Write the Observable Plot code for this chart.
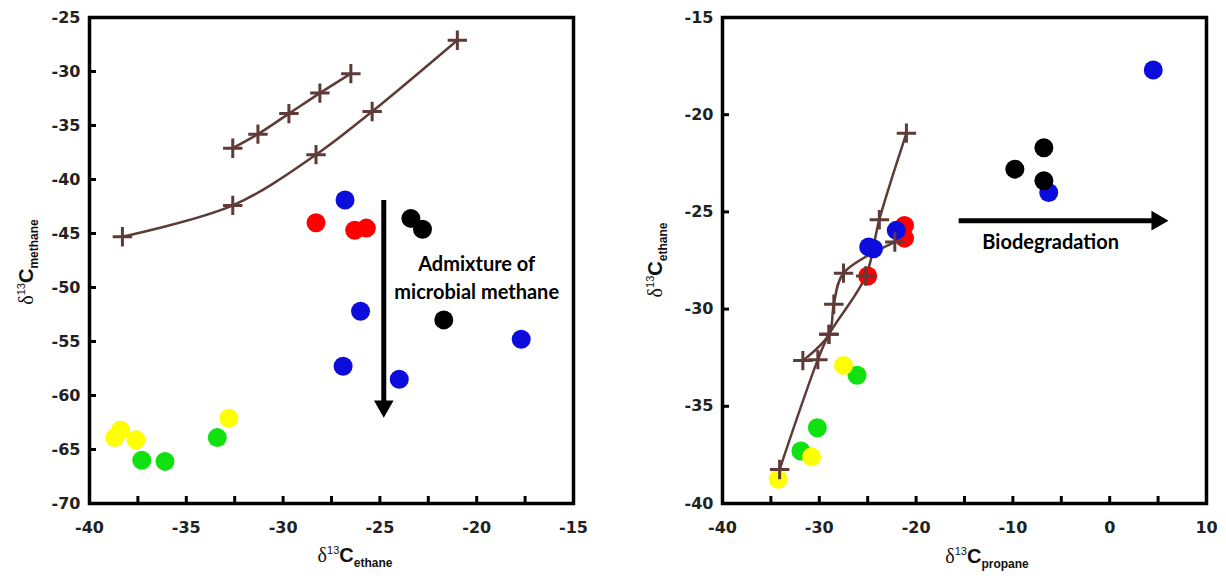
<!DOCTYPE html>
<html><head><meta charset="utf-8">
<script src="https://cdn.jsdelivr.net/npm/d3@7"></script>
<script src="https://cdn.jsdelivr.net/npm/@observablehq/plot@0.6"></script>
<style>
html,body{margin:0;padding:0;background:#fff;overflow:hidden}
#wrap{display:flex;width:1226px;height:578px}
svg{display:block}
</style></head><body><div id="wrap"></div>
<script>
// ---------- Left panel: δ13C ethane (x) vs δ13C methane (y) ----------
const leftXLabels = [-40, -35, -30, -25, -20, -15];
const leftXTicks = [-37.5, -35, -32.5, -30, -27.5, -25, -22.5, -20, -17.5];
const leftYLabels = [-25, -30, -35, -40, -45, -50, -55, -60, -65, -70];
const leftCurveUpper = [[-32.6,-37.1],[-31.3,-35.8],[-29.7,-33.9],[-28.1,-32.0],[-26.5,-30.2]];
const leftCurveLower = [[-38.3,-45.3],[-32.6,-42.4],[-28.3,-37.7],[-25.4,-33.7],[-21.0,-27.1]];
const leftBlue = [[-26.8,-41.9],[-26.0,-52.2],[-26.9,-57.3],[-24.0,-58.5],[-17.7,-54.8]];
const leftRed = [[-28.3,-44.0],[-26.3,-44.7],[-25.7,-44.5]];
const leftBlack = [[-23.4,-43.6],[-22.8,-44.6],[-21.7,-53.0]];
const leftYellow = [[-38.7,-63.9],[-38.4,-63.2],[-37.6,-64.1],[-32.8,-62.1]];
const leftGreen = [[-37.3,-66.0],[-36.1,-66.1],[-33.4,-63.9]];
const leftArrow = [[-24.8,-41.9],[-24.8,-61.0]];
const leftNote = [{x:-20.0, y:-48.9, text:"Admixture of\nmicrobial methane"}];

// ---------- Right panel: δ13C propane (x) vs δ13C ethane (y) ----------
const rightXLabels = [-40, -30, -20, -10, 0, 10];
const rightXTicks = [-35, -30, -25, -20, -15, -10, -5, 0, 5];
const rightYLabels = [-15, -20, -25, -30, -35, -40];
const rightCurveA = [[-34.1,-38.25],[-30.15,-32.6],[-29.0,-31.3],[-25.2,-28.3],[-23.8,-25.4],[-21.0,-20.95]];
const rightCurveB = [[-31.7,-32.65],[-29.0,-31.3],[-28.5,-29.75],[-27.5,-28.15],[-22.2,-26.55]];
const rightGreen = [[-26.1,-33.4],[-30.2,-36.1],[-31.9,-37.3]];
const rightYellow = [[-27.5,-32.9],[-30.8,-37.6],[-34.25,-38.75]];
const rightRed = [[-21.2,-25.7],[-21.2,-26.35],[-25.0,-28.3]];
const rightBlue = [[4.5,-17.7],[-6.3,-24.0],[-22.05,-25.95],[-24.9,-26.8],[-24.4,-26.9]];
const rightBlack = [[-6.8,-21.7],[-9.8,-22.8],[-6.8,-23.4]];
const rightArrow = [[-15.6,-25.45],[4.9,-25.45]];
const rightNote = [{x:-6.1, y:-26.45, text:"Biodegradation"}];

const BROWN = "#5e3b37";
const COLORS = {blue:"#0c0cdc", red:"#ff0000", black:"#000000", yellow:"#ffff00", green:"#11e011"};
const W = 484, H = 486;
const px = d => d[0], py = d => d[1];

function panel(cfg) {
  const marks = [
    Plot.frame({stroke:"#000", strokeWidth:3.5}),
    Plot.ruleX(cfg.xTicks, {x: d => d, insetTop: H - 7, stroke:"#000", strokeWidth:3}),
    Plot.ruleY(cfg.yLabels, {y: d => d, insetRight: W - 7, stroke:"#000", strokeWidth:3}),
    Plot.axisX({ticks: cfg.xLabels, tickSize:0, tickPadding:18, tickFormat: d => String(d), label:null,
      fontSize:16, fontWeight:"bold", fontFamily:"DejaVu Sans", fill:"#222"}),
    Plot.axisY({ticks: cfg.yLabels, tickSize:0, tickPadding:9, tickFormat: d => String(d), label:null,
      fontSize:16, fontWeight:"bold", fontFamily:"DejaVu Sans", fill:"#222"}),
    ...cfg.curves.map(c => Plot.line(c, {x: px, y: py, curve:"catmull-rom", stroke:BROWN, strokeWidth:2.5})),
    ...cfg.dots.map(([arr, col]) => Plot.dot(arr, {x: px, y: py, r:9.5, fill: COLORS[col]})),
    ...cfg.curves.map(c => Plot.dot(c, {x: px, y: py, symbol:"plus", r:6.3, stroke:BROWN, strokeWidth:3})),
    Plot.link([cfg.arrow], {x1: d => d[0][0], y1: d => d[0][1], x2: d => d[1][0], y2: d => d[1][1], stroke:"#000", strokeWidth:5}),
    Plot.dot([cfg.arrow[1]], {x: px, y: py, symbol:"triangle", r:7.3, fill:"#000", rotate: cfg.arrowRotate}),
    Plot.text(cfg.note, {x:"x", y:"y", text:"text", fontFamily:"Lato, 'Open Sans', sans-serif", fontWeight:"bold",
      fontSize:20, lineHeight:1.4, fill:"#000", textAnchor:"middle"})
  ];
  const svg = Plot.plot({
    width: 613, height: 578,
    marginLeft: cfg.ml, marginRight: 613 - cfg.ml - W, marginTop: 17, marginBottom: 578 - 17 - H,
    x: {domain: cfg.xDomain}, y: {domain: cfg.yDomain},
    style: {fontFamily:"DejaVu Sans", background:"#fff", color:"#000"},
    marks
  });
  return svg;
}

function title(svg, {x, y, rotate, sub}) {
  const t = d3.select(svg).append("text")
    .attr("transform", `translate(${x},${y})` + (rotate ? " rotate(-90)" : ""))
    .attr("text-anchor", "middle").attr("fill", "#111")
    .style("font-family", "'Liberation Sans', Arial, sans-serif").style("font-weight", "normal");
  t.append("tspan").text("δ").style("font-family", "'Liberation Serif', serif").attr("font-size", 20);
  t.append("tspan").text("13").attr("font-size", 11).attr("dy", -8);
  t.append("tspan").text("C").attr("font-size", 20).style("font-weight", "bold").attr("dy", 8);
  t.append("tspan").text(sub).attr("font-size", 12).style("font-weight", "bold").attr("dy", 5);
}

const left = panel({
  ml: 89, xDomain: [-40, -15], yDomain: [-70, -25],
  xLabels: leftXLabels, xTicks: leftXTicks, yLabels: leftYLabels,
  curves: [leftCurveUpper, leftCurveLower],
  dots: [[leftBlue,"blue"],[leftRed,"red"],[leftBlack,"black"],[leftYellow,"yellow"],[leftGreen,"green"]],
  arrow: leftArrow, arrowRotate: 180, note: leftNote
});
title(left, {x: 355, y: 562, rotate: false, sub: "ethane"});
title(left, {x: 33, y: 262, rotate: true, sub: "methane"});

const right = panel({
  ml: 109, xDomain: [-40, 10], yDomain: [-40, -15],
  xLabels: rightXLabels, xTicks: rightXTicks, yLabels: rightYLabels,
  curves: [rightCurveA, rightCurveB],
  dots: [[rightGreen,"green"],[rightYellow,"yellow"],[rightRed,"red"],[rightBlue,"blue"],[rightBlack,"black"]],
  arrow: rightArrow, arrowRotate: 90, note: rightNote
});
title(right, {x: 374, y: 563, rotate: false, sub: "propane"});
title(right, {x: 49, y: 260, rotate: true, sub: "ethane"});

document.getElementById("wrap").append(left, right);
</script></body></html>
